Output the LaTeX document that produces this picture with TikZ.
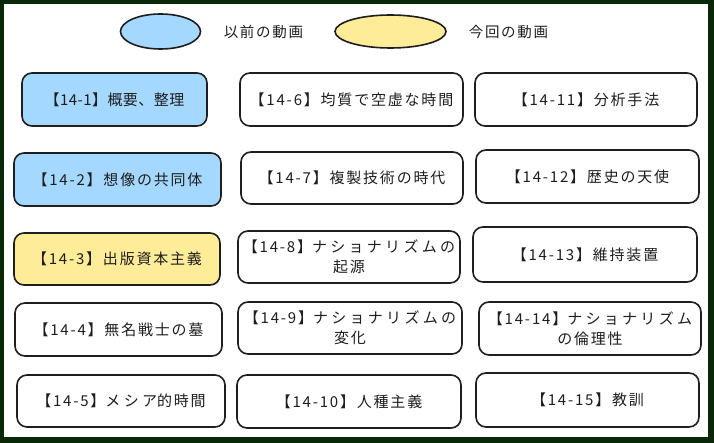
\documentclass[tikz,border=0pt]{standalone}
\usepackage{fontspec}
\setmainfont{Noto Sans CJK JP}[LetterSpace=12]
\newfontfamily\kana{Noto Sans CJK JP}[LetterSpace=22]
\newfontfamily\plainjp{Noto Sans CJK JP}[LetterSpace=3]
\usetikzlibrary{shapes.geometric}
\definecolor{frame}{RGB}{8,40,8}
\definecolor{prevblue}{HTML}{A5D8FF}
\definecolor{curyellow}{HTML}{FFEC99}
\definecolor{ink}{HTML}{1E1E1E}
\tikzset{
  box/.style={draw=ink, line width=1.6pt, rounded corners=10pt, fill=white,
    inner sep=1pt, align=center, text=ink,
    font=\fontsize{15}{20}\selectfont},
  legend/.style={draw=ink, line width=1.6pt, ellipse, inner sep=0pt},
  legtext/.style={text=ink, font=\fontsize{14.5}{18}\selectfont},
}
\newcommand{\bx}[6]{\node[box,#6, minimum width=#4pt, minimum height=#5pt] (#1) at (#2,#3)}
\begin{document}
\begin{tikzpicture}[x=1pt,y=-1pt]
\useasboundingbox (0,0) rectangle (714,443);
\fill[frame] (0,0) rectangle (714,443);
\fill[white] (4,4) rectangle (708,437);
% legend
\node[legend, fill=prevblue, minimum width=80pt, minimum height=35pt] (e1) at (160.5,31.5) {};
\node[legtext] (t1) at (263.5,32) {以前の動画};
\node[legend, fill=curyellow, minimum width=111pt, minimum height=33pt] (e2) at (390.5,31.5) {};
\node[legtext] (t2) at (508.5,32) {今回の動画};
% column 1
\bx{n1}{114.5}{99.5}{185}{53}{fill=prevblue} {\plainjp【14-1】概要、整理};
\bx{n2}{117.5}{179.5}{207}{53}{fill=prevblue} {【14-2】想像の共同体};
\bx{n3}{117}{259}{206}{52}{fill=curyellow} {【14-3】出版資本主義};
\bx{n4}{118.5}{329.5}{207}{53}{} {【14-4】無名戦士の墓};
\bx{n5}{121}{401}{208}{52}{} {【14-5】{\kana メシア}的時間};
% column 2
\bx{n6}{351.5}{99.5}{223}{53}{} {【14-6】均質で空虚な時間};
\bx{n7}{352}{178}{222}{52}{} {【14-7】複製技術の時代};
\bx{n8}{349}{257}{222}{52}{} {【14-8】{\kana ナショナリズムの}\\起源};
\bx{n9}{350}{328}{224}{52}{} {【14-9】{\kana ナショナリズムの}\\変化};
\bx{n10}{349}{401.5}{224}{53}{} {【14-10】人種主義};
% column 3
\bx{n11}{586}{99.5}{222}{53}{} {【14-11】分析手法};
\bx{n12}{587.5}{176.5}{223}{53}{} {【14-12】歴史の天使};
\bx{n13}{585}{254.5}{224}{55}{} {【14-13】維持装置};
\bx{n14}{590}{328.5}{222}{53}{} {【14-14】{\kana ナショナリズム}\\の倫理性};
\bx{n15}{587.5}{400}{223}{54}{} {【14-15】教訓};
\end{tikzpicture}
\end{document}
